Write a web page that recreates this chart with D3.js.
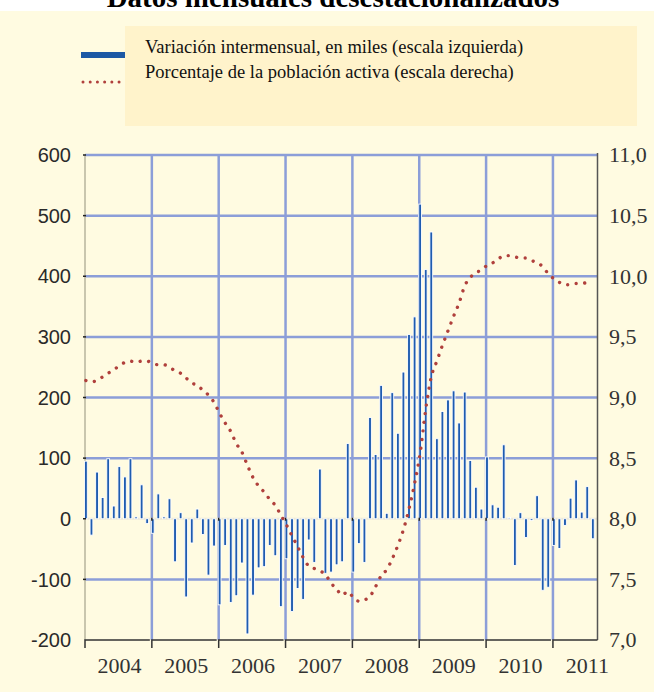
<!DOCTYPE html>
<html>
<head>
<meta charset="utf-8">
<script src="https://cdn.jsdelivr.net/npm/d3@7"></script>
<style>
  body { margin: 0; background: #fff; }
  svg { display: block; }
</style>
</head>
<body>
<div id="chart"></div>
<script>
// Monthly values, Jan 2004 - Aug 2011
const years = ["2004", "2005", "2006", "2007", "2008", "2009", "2010", "2011"];

// month-on-month change, thousands (left scale)
const variacion = [
    95, -27, 77, 35, 99, 21, 86, 69, 99, 3, 56, -8,
    -24, 41, 3, 33, -71, 10, -129, -40, 16, -26, -93, -45,
    -142, -44, -138, -127, -73, -190, -126, -81, -79, -44, -61, -145,
    -66, -153, -115, -133, -35, -72, 82, -90, -88, -76, -71, 124,
    -88, -41, -72, 167, 106, 220, 9, 208, 141, 242, 304, 333,
    519, 411, 473, 132, 177, 196, 211, 158, 209, 96, 52, 16,
    102, 23, 19, 122, 2, -77, 10, -31, -3, 38, -118, -113,
    -44, -49, -11, 34, 64, 11, 53, -33
];

// % of labour force (right scale)
const tasa = [
    9.14, 9.13, 9.14, 9.17, 9.20, 9.23, 9.26, 9.29, 9.30, 9.29, 9.30, 9.30,
    9.28, 9.27, 9.27, 9.25, 9.22, 9.20, 9.16, 9.12, 9.10, 9.06, 9.02, 8.96,
    8.87, 8.79, 8.72, 8.62, 8.55, 8.44, 8.34, 8.27, 8.22, 8.16, 8.11, 8.03,
    7.95, 7.86, 7.77, 7.68, 7.61, 7.59, 7.57, 7.54, 7.47, 7.42, 7.37, 7.40,
    7.35, 7.32, 7.33, 7.36, 7.44, 7.53, 7.58, 7.67, 7.78, 7.91, 8.08, 8.29,
    8.54, 8.90, 9.17, 9.30, 9.43, 9.55, 9.67, 9.78, 9.92, 9.99, 10.03, 10.05,
    10.09, 10.11, 10.14, 10.17, 10.17, 10.16, 10.15, 10.15, 10.13, 10.11, 10.08, 10.02,
    9.98, 9.95, 9.93, 9.93, 9.94, 9.94, 9.95, 9.96
];

const leftTicks = [-200, -100, 0, 100, 200, 300, 400, 500, 600];
const rightTicks = [7.0, 7.5, 8.0, 8.5, 9.0, 9.5, 10.0, 10.5, 11.0];
const legendLabels = [
    "Variación intermensual, en miles (escala izquierda)",
    "Porcentaje de la población activa (escala derecha)"
];
const title = "Datos mensuales desestacionalizados";

const width = 654, height = 692;
const plotLeft = 85, plotRight = 597.5, plotTop = 155, plotBottom = 640;

const esLocale = d3.formatLocale({decimal: ",", thousands: ".", grouping: [3], currency: ["", " €"], minus: "-"});
const fmtRight = esLocale.format(".1f");
const fmtLeft = esLocale.format("d");

const svg = d3.select("#chart").append("svg")
    .attr("width", width)
    .attr("height", height);

// background
svg.append("rect")
    .attr("x", 0).attr("y", 11)
    .attr("width", width).attr("height", height - 11)
    .attr("fill", "#fffbe1");

// title (top half is cut off in the source too)
svg.append("text")
    .attr("x", 333).attr("y", 7)
    .attr("text-anchor", "middle")
    .attr("font-family", "Liberation Serif, Times New Roman, serif")
    .attr("font-weight", "bold")
    .attr("font-size", 29)
    .attr("fill", "#000")
    .text(title);

// legend
const legend = svg.append("g");
legend.append("rect")
    .attr("x", 125).attr("y", 26)
    .attr("width", 512).attr("height", 100)
    .attr("fill", "#fff3cb");

legend.append("line")
    .attr("x1", 81).attr("x2", 125)
    .attr("y1", 55).attr("y2", 55)
    .attr("stroke", "#1c58a4")
    .attr("stroke-width", 6);

legend.append("line")
    .attr("x1", 83).attr("x2", 125)
    .attr("y1", 82).attr("y2", 82)
    .attr("stroke", "#b0403c")
    .attr("stroke-width", 3)
    .attr("stroke-linecap", "round")
    .attr("stroke-dasharray", "0.01 7.2");

legend.selectAll("text.leg")
    .data(legendLabels)
    .join("text")
    .attr("class", "leg")
    .attr("x", 145)
    .attr("y", (d, i) => 53 + i * 25)
    .attr("font-family", "Liberation Serif, Times New Roman, serif")
    .attr("font-size", 18.5)
    .attr("fill", "#111")
    .text(d => d);

// scales
const x = d3.scaleLinear().domain([0, variacion.length]).range([plotLeft, plotRight]);
const yL = d3.scaleLinear().domain([-200, 600]).range([plotBottom, plotTop]);
const yR = d3.scaleLinear().domain([7, 11]).range([plotBottom, plotTop]);

const gridColor = "#8c9ed8";

// horizontal grid
svg.append("g")
    .selectAll("line")
    .data(leftTicks.filter(d => d !== -200 && d !== 0))
    .join("line")
    .attr("x1", plotLeft).attr("x2", plotRight)
    .attr("y1", d => yL(d)).attr("y2", d => yL(d))
    .attr("stroke", gridColor)
    .attr("stroke-width", 2.5);

// vertical grid at year boundaries
const yearStarts = years.map((y, i) => i * 12);
svg.append("g")
    .selectAll("line")
    .data(yearStarts.slice(1))
    .join("line")
    .attr("x1", d => x(d)).attr("x2", d => x(d))
    .attr("y1", plotTop).attr("y2", plotBottom)
    .attr("stroke", gridColor)
    .attr("stroke-width", 2.5);

// zero line
svg.append("line")
    .attr("x1", plotLeft).attr("x2", plotRight)
    .attr("y1", yL(0)).attr("y2", yL(0))
    .attr("stroke", "#ece8d6")
    .attr("stroke-width", 2);

// left border
svg.append("line")
    .attr("x1", plotLeft).attr("x2", plotLeft)
    .attr("y1", plotTop).attr("y2", plotBottom)
    .attr("stroke", "#b7b49c")
    .attr("stroke-width", 1.5);

// bars
const bw = 2.8;
svg.append("g")
    .selectAll("rect")
    .data(variacion)
    .join("rect")
    .attr("x", (d, i) => x(i) + 0.9 - bw / 2)
    .attr("y", d => yL(Math.max(0, d)))
    .attr("width", bw)
    .attr("height", d => Math.abs(yL(d) - yL(0)))
    .attr("fill", "#1f5cb0")
    .attr("stroke", "#ffffff")
    .attr("stroke-width", 0.9);

// small ticks on the zero line at year boundaries
svg.append("g")
    .selectAll("line")
    .data(yearStarts.slice(1))
    .join("line")
    .attr("x1", d => x(d)).attr("x2", d => x(d))
    .attr("y1", yL(0) - 1).attr("y2", yL(0) + 2)
    .attr("stroke", "#222")
    .attr("stroke-width", 1.5);

// unemployment rate, dotted
const line = d3.line()
    .x((d, i) => x(i) + 0.9)
    .y(d => yR(d))
    .curve(d3.curveMonotoneX);

svg.append("path")
    .datum(tasa)
    .attr("d", line)
    .attr("fill", "none")
    .attr("stroke", "#b0403c")
    .attr("stroke-width", 3.4)
    .attr("stroke-linecap", "round")
    .attr("stroke-dasharray", "0.01 8.6");

// left axis ticks + labels
svg.append("g")
    .selectAll("line")
    .data(leftTicks.filter(d => d !== -200))
    .join("line")
    .attr("x1", plotLeft - 2).attr("x2", plotLeft + 1)
    .attr("y1", d => yL(d)).attr("y2", d => yL(d))
    .attr("stroke", "#222")
    .attr("stroke-width", 1.5);

svg.append("g")
    .selectAll("text")
    .data(leftTicks)
    .join("text")
    .attr("x", 71)
    .attr("y", d => yL(d))
    .attr("dy", "0.36em")
    .attr("text-anchor", "end")
    .attr("font-family", "Liberation Sans, Arial, sans-serif")
    .attr("font-size", 20)
    .attr("fill", "#2a2a2a")
    .text(d => fmtLeft(d));

// right axis
svg.append("line")
    .attr("x1", plotRight).attr("x2", plotRight)
    .attr("y1", plotTop - 2).attr("y2", plotBottom)
    .attr("stroke", "#555")
    .attr("stroke-width", 1.5);

svg.append("g")
    .selectAll("text")
    .data(rightTicks)
    .join("text")
    .attr("x", 609)
    .attr("y", d => yR(d))
    .attr("dy", "0.34em")
    .attr("font-family", "Liberation Serif, Times New Roman, serif")
    .attr("font-size", 22)
    .attr("fill", "#333")
    .text(d => fmtRight(d));

// bottom year brackets
const last = variacion.length;
svg.append("g")
    .selectAll("path")
    .data(yearStarts)
    .join("path")
    .attr("d", (d, i) => {
        const xs = x(d), xe = (d + 12 >= last) ? x(last) : x(d + 12) - 2;
        return `M${xs},${plotBottom + 8}V${plotBottom}H${xe}`;
    })
    .attr("fill", "none")
    .attr("stroke", "#333")
    .attr("stroke-width", 1.5);

svg.append("g")
    .selectAll("text")
    .data(years)
    .join("text")
    .attr("x", (d, i) => x(i * 12 + 6) + 1)
    .attr("y", 673)
    .attr("text-anchor", "middle")
    .attr("font-family", "Liberation Serif, Times New Roman, serif")
    .attr("font-size", 22)
    .attr("fill", "#333")
    .text(d => d);
</script>
</body>
</html>
